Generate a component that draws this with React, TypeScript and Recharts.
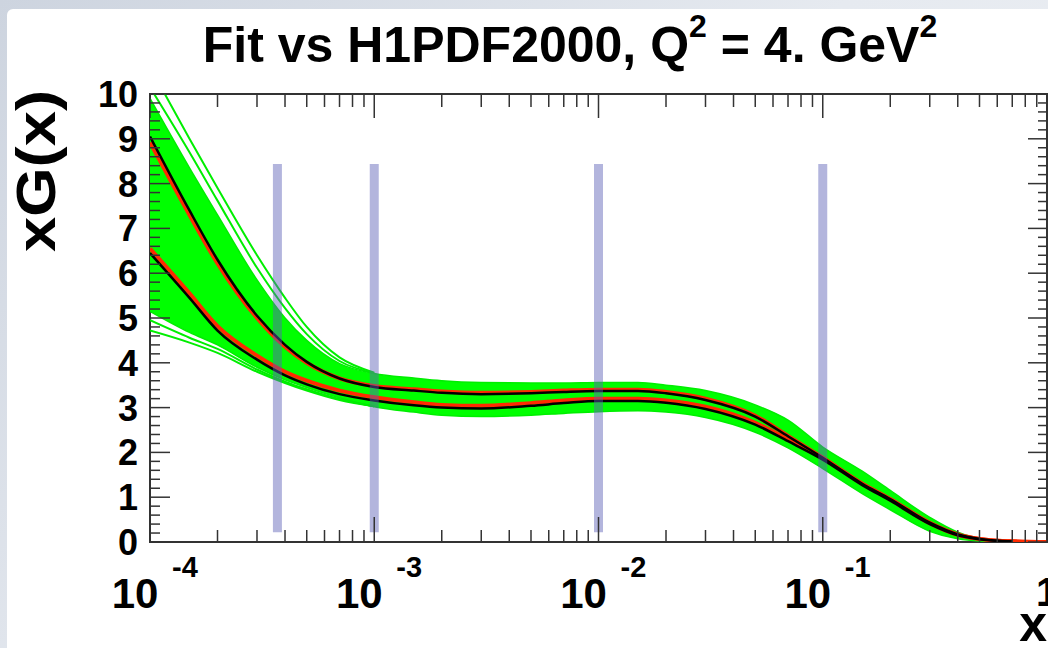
import { ComposedChart, Area, Line, XAxis, YAxis, ReferenceLine } from 'recharts'

const FONT = '"Liberation Sans", Arial, Helvetica, sans-serif'

// x grid of the curves (log scale)
const X_GRID = [
  1e-4, 1.5e-4, 2e-4, 3e-4, 4e-4, 5e-4, 7e-4, 1e-3, 1.5e-3, 2e-3, 3e-3, 5e-3, 7e-3, 1e-2,
  1.5e-2, 2e-2, 3e-2, 5e-2, 7e-2, 0.1, 0.15, 0.2, 0.3, 0.4, 0.5, 0.7, 1,
]

// envelope of the green replica band
const BAND_HIGH = [
  9.9, 8.35, 7.3, 5.85, 5.0, 4.5, 3.98, 3.76, 3.66, 3.6, 3.56, 3.55, 3.55, 3.56, 3.56, 3.5,
  3.38, 3.06, 2.72, 2.12, 1.58, 1.15, 0.55, 0.22, 0.08, 0.02, 0,
]
const BAND_LOW = [
  5.15, 4.68, 4.4, 3.9, 3.62, 3.45, 3.22, 3.02, 2.9, 2.83, 2.8, 2.83, 2.87, 2.91, 2.93, 2.9,
  2.78, 2.45, 2.1, 1.64, 1.08, 0.72, 0.24, 0.07, 0.02, 0, 0,
]

// stray replicas outside the band
const OUT_TOP_1 = [10.6, 9.0, 7.9, 6.4, 5.45, 4.8, 4.12, 3.78, null, null, null, null, null, null, null, null, null, null, null, null, null, null, null, null, null, null, null]
const OUT_TOP_2 = [10.15, 8.7, 7.62, 6.12, 5.22, 4.64, 4.04, 3.77, null, null, null, null, null, null, null, null, null, null, null, null, null, null, null, null, null, null, null]
const OUT_LOW_1 = [4.72, 4.45, 4.22, 3.8, 3.55, 3.38, 3.17, 3.03, null, null, null, null, null, null, null, null, null, null, null, null, null, null, null, null, null, null, null]
const OUT_LOW_2 = [4.95, 4.56, 4.31, 3.85, 3.58, 3.41, 3.19, 3.03, null, null, null, null, null, null, null, null, null, null, null, null, null, null, null, null, null, null, null]

// fit (black) and H1PDF2000 (red), upper and lower curves
const FIT_UP = [
  9.05, 7.4, 6.3, 5.05, 4.4, 4.02, 3.65, 3.46, 3.38, 3.33, 3.3, 3.32, 3.35, 3.37, 3.37, 3.32,
  3.17, 2.8, 2.36, 1.88, 1.3, 0.96, 0.43, 0.17, 0.07, 0.01, null,
]
const H1_UP = [
  8.92, 7.3, 6.22, 5.0, 4.36, 4.0, 3.65, 3.48, 3.41, 3.36, 3.33, 3.35, 3.38, 3.4, 3.4, 3.35,
  3.2, 2.82, 2.37, 1.88, 1.3, 0.96, 0.43, 0.17, 0.07, 0.015, 0,
]
const FIT_LOW = [
  6.45, 5.45, 4.72, 4.07, 3.72, 3.52, 3.3, 3.16, 3.05, 3.0, 2.98, 3.04, 3.1, 3.15, 3.15, 3.11,
  2.97, 2.62, 2.25, 1.84, 1.27, 0.92, 0.4, 0.15, 0.06, 0.01, null,
]
const H1_LOW = [
  6.55, 5.55, 4.82, 4.16, 3.8, 3.6, 3.38, 3.23, 3.12, 3.06, 3.04, 3.1, 3.16, 3.2, 3.2, 3.16,
  3.02, 2.66, 2.29, 1.87, 1.3, 0.95, 0.42, 0.16, 0.07, 0.015, 0,
]

// blue marker bars
const BAR_X = [3.7e-4, 1e-3, 1e-2, 1e-1]
const BAR_Y = [0.22, 8.44]

// axis ticks
const X_TICKS = [
  1e-4, 2e-4, 3e-4, 4e-4, 5e-4, 6e-4, 7e-4, 8e-4, 9e-4,
  1e-3, 2e-3, 3e-3, 4e-3, 5e-3, 6e-3, 7e-3, 8e-3, 9e-3,
  1e-2, 2e-2, 3e-2, 4e-2, 5e-2, 6e-2, 7e-2, 8e-2, 9e-2,
  0.1, 0.2, 0.3, 0.4, 0.5, 0.6, 0.7, 0.8, 0.9, 1,
]
const X_DECADES = [1e-4, 1e-3, 1e-2, 1e-1]
const X_EXPONENTS = ['-4', '-3', '-2', '-1']
const Y_LABELS = [0, 1, 2, 3, 4, 5, 6, 7, 8, 9, 10]
const Y_TICKS = Array.from({ length: 51 }, (_, i) => i / 5)

const PLOT_LEFT = 150
const PLOT_RIGHT = 1047
const PLOT_TOP = 94
const PLOT_BOTTOM = 542
const CHART_W = 1060
const CHART_H = 648
const TICK_COLOR = '#333'

const data = X_GRID.map((x, i) => ({
  x,
  band: [BAND_LOW[i], BAND_HIGH[i]],
  o1: OUT_TOP_1[i],
  o2: OUT_TOP_2[i],
  l1: OUT_LOW_1[i],
  l2: OUT_LOW_2[i],
  fitUp: FIT_UP[i],
  h1Up: H1_UP[i],
  fitLow: FIT_LOW[i],
  h1Low: H1_LOW[i],
}))

function XTick(props: any) {
  const { x, payload } = props
  const v = payload.value
  const d = X_DECADES.indexOf(v)
  const major = d >= 0 || v === 1
  return (
    <g>
      <line x1={x} x2={x} y1={PLOT_BOTTOM} y2={PLOT_BOTTOM - (major ? 25 : 12)} stroke={TICK_COLOR} strokeWidth={1.5} />
      <line x1={x} x2={x} y1={PLOT_TOP} y2={PLOT_TOP + (major ? 24 : 13)} stroke={TICK_COLOR} strokeWidth={1.5} />
      {d >= 0 && (
        <g fontFamily={FONT} fontWeight="bold" fill="#000">
          <text x={x - 15} y={608} textAnchor="middle" fontSize={42}>10</text>
          <text x={x + 22} y={577} textAnchor="start" fontSize={29}>{X_EXPONENTS[d]}</text>
        </g>
      )}
      {v === 1 && (
        <text x={x - 11} y={606} fontFamily={FONT} fontWeight="bold" fontSize={40} fill="#000">1</text>
      )}
    </g>
  )
}

function YTick(props: any) {
  const { y, payload } = props
  const v = payload.value
  const major = Y_LABELS.includes(v)
  return (
    <g>
      <line x1={PLOT_LEFT} x2={PLOT_LEFT + (major ? 20 : 10)} y1={y} y2={y} stroke={TICK_COLOR} strokeWidth={1.5} />
      <line x1={PLOT_RIGHT} x2={PLOT_RIGHT - (major ? 19 : 9)} y1={y} y2={y} stroke={TICK_COLOR} strokeWidth={1.5} />
      {major && (
        <text x={138} y={y + 13} textAnchor="end" fontFamily={FONT} fontWeight="bold" fontSize={36} fill="#000">
          {v}
        </text>
      )}
    </g>
  )
}

export default function App() {
  return (
    <div
      style={{
        position: 'fixed',
        left: 0,
        top: 0,
        width: 1048,
        height: 648,
        overflow: 'hidden',
        background: 'linear-gradient(135deg, #cdd4df 0%, #e6eaf0 50%, #eef1f5 100%)',
      }}
    >
      <div
        style={{
          position: 'absolute',
          left: 7,
          top: 9,
          right: 0,
          bottom: 0,
          background: '#fff',
          borderTopLeftRadius: 6,
        }}
      />
      <div
        style={{
          position: 'absolute',
          left: PLOT_LEFT - 1,
          top: PLOT_TOP - 1,
          width: PLOT_RIGHT - PLOT_LEFT + 2,
          height: PLOT_BOTTOM - PLOT_TOP + 2,
          border: `2px solid ${TICK_COLOR}`,
          boxSizing: 'border-box',
        }}
      />
      <div style={{ position: 'absolute', left: 0, top: 0 }}>
        <ComposedChart
          width={CHART_W}
          height={CHART_H}
          data={data}
          margin={{ top: PLOT_TOP, left: 0, right: CHART_W - PLOT_RIGHT, bottom: 0 }}
        >
          <XAxis
            dataKey="x"
            type="number"
            scale="log"
            domain={[1e-4, 1]}
            allowDataOverflow
            ticks={X_TICKS}
            interval={0}
            height={CHART_H - PLOT_BOTTOM}
            axisLine={false}
            tickLine={false}
            tick={<XTick />}
          />
          <YAxis
            type="number"
            domain={[0, 10]}
            allowDataOverflow
            ticks={Y_TICKS}
            interval={0}
            width={PLOT_LEFT}
            axisLine={false}
            tickLine={false}
            tick={<YTick />}
          />
          <Area
            dataKey="band"
            type="monotone"
            fill="#00ff00"
            fillOpacity={1}
            stroke="#00ee00"
            strokeWidth={1.5}
            isAnimationActive={false}
          />
          <Line dataKey="o1" type="monotone" stroke="#00ee00" strokeWidth={2} dot={false} isAnimationActive={false} />
          <Line dataKey="o2" type="monotone" stroke="#00ee00" strokeWidth={2} dot={false} isAnimationActive={false} />
          <Line dataKey="l1" type="monotone" stroke="#00ee00" strokeWidth={2} dot={false} isAnimationActive={false} />
          <Line dataKey="l2" type="monotone" stroke="#00ee00" strokeWidth={2} dot={false} isAnimationActive={false} />
          <Line dataKey="h1Up" type="monotone" stroke="#ff2a00" strokeWidth={4} dot={false} isAnimationActive={false} />
          <Line dataKey="h1Low" type="monotone" stroke="#ff2a00" strokeWidth={4} dot={false} isAnimationActive={false} />
          <Line dataKey="fitUp" type="monotone" stroke="#000" strokeWidth={2.5} dot={false} isAnimationActive={false} />
          <Line dataKey="fitLow" type="monotone" stroke="#000" strokeWidth={2.5} dot={false} isAnimationActive={false} />
          {BAR_X.map((bx) => (
            <ReferenceLine
              key={bx}
              segment={[
                { x: bx, y: BAR_Y[0] },
                { x: bx, y: BAR_Y[1] },
              ]}
              stroke="#5a5eb4"
              strokeOpacity={0.46}
              strokeWidth={9}
            />
          ))}
        </ComposedChart>
      </div>
      <svg
        width={1048}
        height={648}
        style={{ position: 'absolute', left: 0, top: 0, pointerEvents: 'none' }}
        fontFamily={FONT}
        fontWeight="bold"
      >
        <text x={570} y={62} textAnchor="middle" fontSize={50} fill="#000">
          Fit vs H1PDF2000, Q
          <tspan dy={-25} fontSize={32}>2</tspan>
          <tspan dy={25}> = 4. GeV</tspan>
          <tspan dy={-25} fontSize={32}>2</tspan>
        </text>
        <text
          transform="translate(55,171) rotate(-90)"
          textAnchor="middle"
          fontSize={56}
          textLength={162}
          lengthAdjust="spacingAndGlyphs"
          fill="#000"
        >
          xG(x)
        </text>
        <text x={1047} y={641} textAnchor="end" fontSize={50} fill="#000">
          x
        </text>
      </svg>
    </div>
  )
}
